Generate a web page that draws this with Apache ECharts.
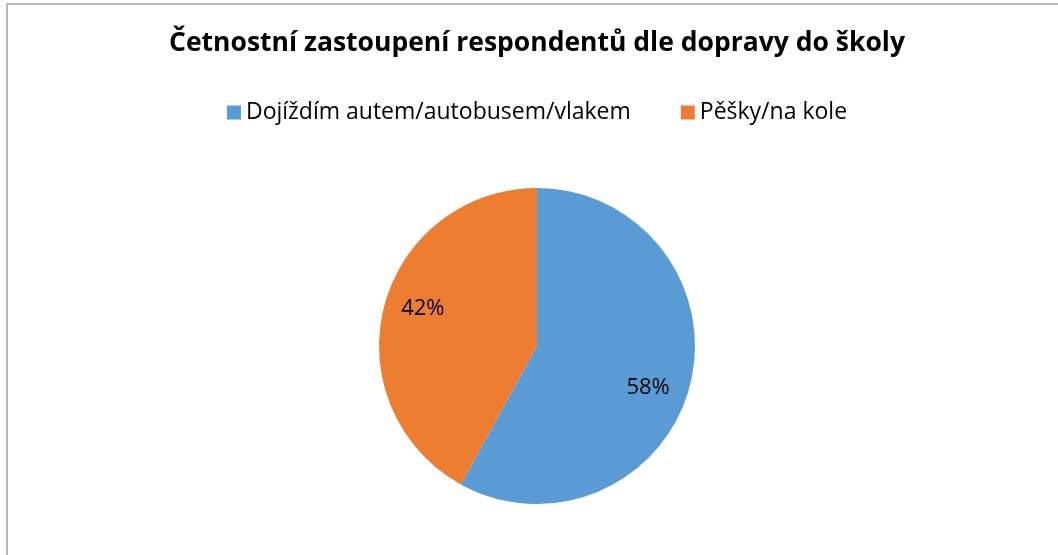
<!DOCTYPE html>
<html>
<head>
<meta charset="utf-8">
<script src="https://cdn.jsdelivr.net/npm/echarts@6/dist/echarts.min.js"></script>
<style>
  html, body { margin: 0; padding: 0; overflow: hidden; background: #fff; }
  #chart { width: 1074px; height: 555px; }
</style>
</head>
<body>
<div id="chart"></div>
<script>
// data
const categories = ["Dojíždím autem/autobusem/vlakem", "Pěšky/na kole"];
const values = [58, 42];
const colors = ["#5B9BD5", "#ED7D31"];
const titleText = "Četnostní zastoupení respondentů dle dopravy do školy";

const font = "'Open Sans', sans-serif";
// label nudges so the percentages sit where the original put them
const labelOffsets = [[-8, 11], [5, -7]];

const chart = echarts.init(document.getElementById("chart"), null, { renderer: "canvas" });

const option = {
  animation: false,
  backgroundColor: "#fff",
  title: {
    text: titleText,
    left: "center",
    top: 25,
    textStyle: { fontFamily: font, fontSize: 26.5, fontWeight: "bold", color: "#000" },
  },
  legend: {
    data: categories,
    top: 96,
    left: "center",
    icon: "rect",
    itemWidth: 14,
    itemHeight: 14,
    itemGap: 50,
    textStyle: { fontFamily: font, fontSize: 23, color: "#000" },
  },
  // chart frame (only top and left are visible in the window)
  graphic: [
    {
      type: "rect",
      shape: { x: 7, y: 4, width: 1200, height: 700 },
      style: { fill: "none", stroke: "#a0a0a0", lineWidth: 1.5 },
      silent: true,
    },
  ],
  series: [
    {
      name: "doprava",
      type: "pie",
      center: [537, 346],
      radius: 158,
      startAngle: 90,
      clockwise: true,
      label: { show: false },
      labelLine: { show: false },
      emphasis: { disabled: true },
      itemStyle: { borderWidth: 0 },
      data: categories.map((name, i) => ({
        name: name,
        value: values[i],
        itemStyle: { color: colors[i] },
      })),
    },
    {
      // transparent ring, only used to place the percentage labels
      name: "labels",
      type: "pie",
      center: [537, 346],
      radius: [82, 158],
      startAngle: 90,
      clockwise: true,
      silent: true,
      legendHoverLink: false,
      itemStyle: { color: "transparent" },
      label: {
        show: true,
        position: "inside",
        formatter: "{d}%",
        fontFamily: font,
        fontSize: 22,
        color: "#000",
      },
      labelLine: { show: false },
      emphasis: { disabled: true },
      data: categories.map((name, i) => ({
        name: name,
        value: values[i],
        label: { offset: labelOffsets[i] },
      })),
    },
  ],
};

chart.setOption(option);
</script>
</body>
</html>
